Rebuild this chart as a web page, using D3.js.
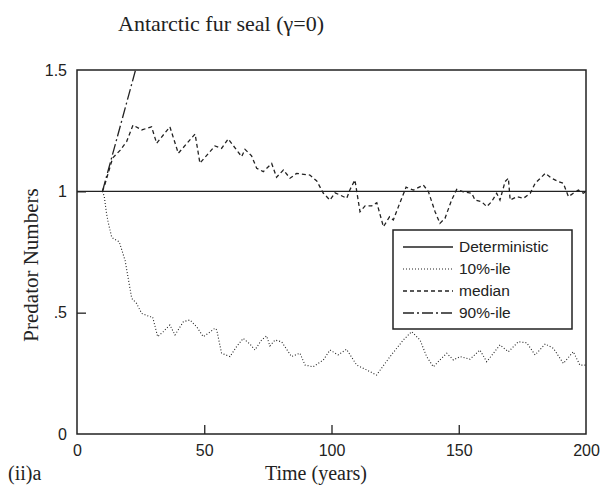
<!DOCTYPE html>
<html>
<head>
<meta charset="utf-8">
<script src="https://cdn.jsdelivr.net/npm/d3@7"></script>
<style>
  html, body { margin: 0; padding: 0; background: #fff; }
  svg { display: block; }
</style>
</head>
<body>
<svg id="chart" width="609" height="489"></svg>
<script>
// ---- data ----
const xTicks = [0, 50, 100, 150, 200];
const yTicks = [0, 0.5, 1, 1.5];
const yTickLabels = ["0", ".5", "1", "1.5"];

const detT = [0, 200];
const detV = [1, 1];

const p90T = [10, 16, 23];
const p90V = [1.0, 1.23, 1.5];

const medT = [10, 11, 14, 17, 19.5, 22, 25.4, 29.3, 31.3, 36.5, 39.8, 46.4, 48.3, 54.2, 56.8, 59.4, 64.7, 66, 68.6, 70.6, 73.2, 76.5, 78.4, 81.1, 83.7, 86.3, 91.5, 94.2, 96.8, 99.4, 101.4, 103.3, 106, 107.3, 109.2, 111.2, 113.2, 115.8, 117.8, 120.4, 122.8, 124.3, 126.3, 129.3, 132.2, 136.1, 138.1, 140.7, 142.6, 144.6, 147.2, 149.2, 151.8, 155.1, 156.4, 159, 161, 162.9, 164.9, 166.2, 168.2, 169.5, 170.2, 172.8, 175.4, 178.1, 180, 184, 186.5, 189.2, 191.1, 193.1, 195, 197, 199, 200];
const medV = [1.0, 1.03, 1.137, 1.17, 1.205, 1.273, 1.253, 1.266, 1.198, 1.266, 1.157, 1.236, 1.116, 1.187, 1.177, 1.216, 1.143, 1.173, 1.146, 1.095, 1.081, 1.115, 1.058, 1.088, 1.054, 1.074, 1.067, 1.043, 0.992, 0.964, 0.994, 0.985, 0.971, 1.008, 1.047, 0.916, 0.94, 0.94, 0.953, 0.854, 0.895, 0.882, 0.937, 1.017, 1.005, 1.026, 0.998, 0.916, 0.868, 0.889, 0.964, 1.008, 0.998, 0.992, 0.964, 0.957, 0.937, 0.957, 0.992, 0.964, 1.04, 1.054, 0.964, 0.978, 0.971, 0.992, 1.033, 1.074, 1.054, 1.04, 1.033, 0.978, 0.992, 1.005, 0.992, 1.0];

const p10T = [10, 10.7, 11.6, 12.3, 13.6, 14.3, 16.6, 18.9, 21.5, 23.4, 25.4, 27.1, 28.7, 29.7, 31.7, 33.9, 36.5, 38.5, 41.8, 44.4, 47, 49.6, 51.6, 54.2, 54.9, 56.8, 60.1, 62.7, 65.3, 68, 69.9, 72.5, 74.5, 75.8, 77.8, 80.4, 84.3, 87.6, 89.6, 92.8, 96.8, 99.4, 102.6, 105.9, 109.9, 113.8, 117.7, 123, 128.2, 131.5, 134.8, 137.4, 140, 142.6, 145.3, 147.9, 150.5, 154.4, 158.3, 161, 166.2, 169.5, 173.4, 176.7, 180, 184, 187.2, 191.1, 195, 197.6, 200];
const p10V = [1.0, 0.98, 0.909, 0.87, 0.813, 0.805, 0.792, 0.715, 0.559, 0.538, 0.497, 0.49, 0.483, 0.483, 0.401, 0.422, 0.449, 0.408, 0.463, 0.47, 0.442, 0.401, 0.415, 0.436, 0.429, 0.333, 0.319, 0.36, 0.394, 0.37, 0.346, 0.387, 0.404, 0.363, 0.387, 0.38, 0.319, 0.333, 0.284, 0.277, 0.305, 0.346, 0.326, 0.349, 0.284, 0.264, 0.243, 0.319, 0.387, 0.422, 0.387, 0.319, 0.277, 0.305, 0.333, 0.305, 0.319, 0.308, 0.346, 0.298, 0.367, 0.339, 0.38, 0.376, 0.326, 0.371, 0.353, 0.291, 0.339, 0.284, 0.284];

const legendLabels = ["Deterministic", "10%-ile", "median", "90%-ile"];
const legendDash = [null, "1,2", "4,3", "11,3,2,3"];

// ---- layout ----
const svg = d3.select("#chart");
const L = 77, R = 586, T = 70, B = 434;
const x = d3.scaleLinear().domain([0, 200]).range([L, R]);
const y = d3.scaleLinear().domain([0, 1.5]).range([B, T]);
const ink = "#222";
const sans = "'Liberation Sans', Arial, sans-serif";
const serif = "'Liberation Serif', 'Times New Roman', serif";

// clip
svg.append("defs").append("clipPath").attr("id", "plotclip")
  .append("rect").attr("x", L).attr("y", T).attr("width", R - L).attr("height", B - T);

// frame
svg.append("rect").attr("x", L).attr("y", T).attr("width", R - L).attr("height", B - T)
  .attr("fill", "none").attr("stroke", ink).attr("stroke-width", 1.5);

// axes (ticks inward)
const xAxis = d3.axisBottom(x).tickValues(xTicks).tickSize(-9).tickPadding(11).tickFormat(d3.format("d"));
const gx = svg.append("g").attr("transform", `translate(0,${B})`).call(xAxis);
gx.select(".domain").remove();
gx.selectAll(".tick line").attr("stroke", ink).attr("stroke-width", 1.3)
  .filter(d => d === 0 || d === 200).remove();
gx.selectAll("text").attr("font-family", sans).attr("font-size", 16).attr("fill", ink);

const yAxis = d3.axisLeft(y).tickValues(yTicks).tickSize(-9).tickPadding(10)
  .tickFormat((d, i) => yTickLabels[i]);
const gy = svg.append("g").attr("transform", `translate(${L},0)`).call(yAxis);
gy.select(".domain").remove();
gy.selectAll(".tick line").attr("stroke", ink).attr("stroke-width", 1.3)
  .filter(d => d === 0 || d === 1.5).remove();
gy.selectAll("text").attr("font-family", sans).attr("font-size", 16).attr("fill", ink);

// series
const line = d3.line().x(d => x(d[0])).y(d => y(d[1]));
const plot = svg.append("g").attr("clip-path", "url(#plotclip)");
const series = [
  { t: detT, v: detV, dash: legendDash[0], w: 1.3 },
  { t: p10T, v: p10V, dash: legendDash[1], w: 1.1 },
  { t: medT, v: medV, dash: legendDash[2], w: 1.3 },
  { t: p90T, v: p90V, dash: legendDash[3], w: 1.3 }
];
series.forEach(s => {
  plot.append("path")
    .datum(s.t.map((t, i) => [t, s.v[i]]))
    .attr("d", line)
    .attr("fill", "none")
    .attr("stroke", ink)
    .attr("stroke-width", s.w)
    .attr("stroke-dasharray", s.dash);
});

// legend
const lg = svg.append("g");
lg.append("rect").attr("x", 393).attr("y", 230).attr("width", 179).attr("height", 99)
  .attr("fill", "#fff").attr("stroke", ink).attr("stroke-width", 1.5);
legendLabels.forEach((lab, i) => {
  const yy = 247 + i * 22;
  lg.append("line").attr("x1", 403).attr("x2", 453).attr("y1", yy).attr("y2", yy)
    .attr("stroke", ink).attr("stroke-width", series[i].w).attr("stroke-dasharray", legendDash[i]);
  lg.append("text").attr("x", 459).attr("y", yy + 5).text(lab)
    .attr("font-family", sans).attr("font-size", 15.5).attr("fill", ink);
});

// titles
svg.append("text").attr("x", 221).attr("y", 31).attr("text-anchor", "middle")
  .attr("font-family", serif).attr("font-size", 22).attr("fill", ink)
  .text("Antarctic fur seal (γ=0)");
svg.append("text").attr("transform", "translate(38,265) rotate(-90)").attr("text-anchor", "middle")
  .attr("font-family", serif).attr("font-size", 21).attr("fill", ink)
  .text("Predator Numbers");
svg.append("text").attr("x", 316).attr("y", 480).attr("text-anchor", "middle")
  .attr("font-family", serif).attr("font-size", 20).attr("fill", ink)
  .text("Time (years)");
svg.append("text").attr("x", 8).attr("y", 480)
  .attr("font-family", serif).attr("font-size", 20).attr("fill", ink)
  .text("(ii)a");
</script>
</body>
</html>
